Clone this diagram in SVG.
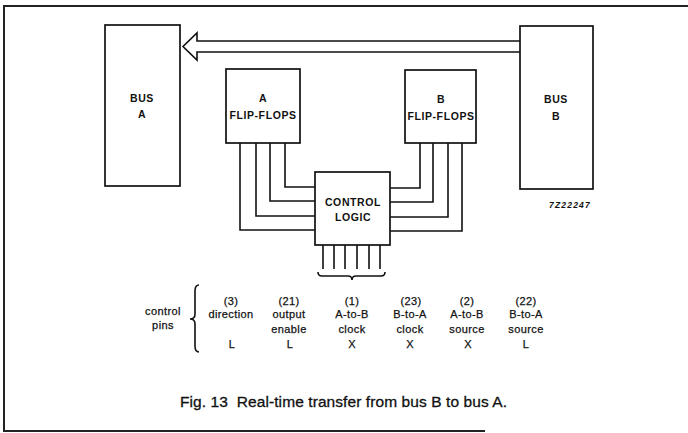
<svg xmlns="http://www.w3.org/2000/svg" width="688" height="433" viewBox="0 0 688 433">
<style>
.box{fill:#fff;stroke:#111;stroke-width:1.7}
.w{fill:none;stroke:#111;stroke-width:1.6}
.frame{fill:none;stroke:#222;stroke-width:2}
.lbl{font-family:"Liberation Sans",Arial,sans-serif;font-weight:bold;font-size:10.5px;fill:#111;text-anchor:middle;letter-spacing:0.6px}
.pin{font-family:"Liberation Sans",Arial,sans-serif;font-size:11px;fill:#111;stroke:#111;stroke-width:0.25;text-anchor:middle;letter-spacing:0.4px}
.cap{font-family:"Liberation Sans",Arial,sans-serif;font-size:15.5px;fill:#111;stroke:#111;stroke-width:0.3}
.code{font-family:"Liberation Sans",Arial,sans-serif;font-weight:bold;font-style:italic;font-size:8.5px;fill:#111;text-anchor:middle;letter-spacing:1.2px}
</style>
<rect width="688" height="433" fill="#fff"/>
<g id="frame">
<path class="frame" d="M688,6 H4 V431 H485"/>
</g>
<g id="connectors">
<path class="w" d="M520,41 H197 V33 L183,46.5 L197,60 V52 H520"/>
<path class="w" d="M240,143 V230 H315"/>
<path class="w" d="M256,143 V216 H315"/>
<path class="w" d="M270,143 V201 H315"/>
<path class="w" d="M285,143 V187 H315"/>
<path class="w" d="M390,188 H420 V143"/>
<path class="w" d="M390,202 H433 V143"/>
<path class="w" d="M390,217 H448 V143"/>
<path class="w" d="M390,231 H462 V143"/>
<path class="w" d="M323,245 V269 M334,245 V269 M345,245 V269 M357,245 V269 M369,245 V269 M380,245 V269"/>
<path class="w" stroke-width="1.3" d="M318,272 Q318,276 322,276 H348 Q352,276 352,280 Q352,276 356,276 H381 Q385,276 385,272"/>
</g>
<g id="busA">
<rect class="box" x="105" y="25" width="75" height="161"/>
<text class="lbl" x="142" y="102">BUS</text>
<text class="lbl" x="142" y="118">A</text>
</g>
<g id="ffA">
<rect class="box" x="226" y="69" width="74" height="74"/>
<text class="lbl" x="263" y="102">A</text>
<text class="lbl" x="263" y="119">FLIP-FLOPS</text>
</g>
<g id="ffB">
<rect class="box" x="405" y="70" width="71" height="73"/>
<text class="lbl" x="441" y="103">B</text>
<text class="lbl" x="441" y="120">FLIP-FLOPS</text>
</g>
<g id="busB">
<rect class="box" x="520" y="26" width="73" height="163"/>
<text class="lbl" x="556" y="103">BUS</text>
<text class="lbl" x="556" y="120">B</text>
<text class="code" x="570" y="208">7Z22247</text>
</g>
<g id="control">
<rect class="box" x="315" y="172" width="75" height="73"/>
<text class="lbl" x="353" y="206">CONTROL</text>
<text class="lbl" x="353" y="221">LOGIC</text>
</g>
<g id="pins">
<text class="pin" x="163" y="315">control</text>
<text class="pin" x="163" y="329">pins</text>
<path class="w" stroke-width="1.3" d="M199,285 Q195,285 195,291 V314 Q195,319 190,319 Q195,319 195,324 V346 Q195,352 199,352"/>
<g id="col1"><text class="pin" x="231" y="305">(3)</text><text class="pin" x="231" y="318">direction</text><text class="pin" x="232" y="348">L</text></g>
<g id="col2"><text class="pin" x="289" y="305">(21)</text><text class="pin" x="289" y="318">output</text><text class="pin" x="289" y="333">enable</text><text class="pin" x="290" y="348">L</text></g>
<g id="col3"><text class="pin" x="352" y="305">(1)</text><text class="pin" x="352" y="318">A-to-B</text><text class="pin" x="352" y="333">clock</text><text class="pin" x="352" y="348">X</text></g>
<g id="col4"><text class="pin" x="411" y="305">(23)</text><text class="pin" x="410" y="318">B-to-A</text><text class="pin" x="410" y="333">clock</text><text class="pin" x="410" y="348">X</text></g>
<g id="col5"><text class="pin" x="467" y="305">(2)</text><text class="pin" x="467" y="318">A-to-B</text><text class="pin" x="467" y="333">source</text><text class="pin" x="468" y="348">X</text></g>
<g id="col6"><text class="pin" x="526" y="305">(22)</text><text class="pin" x="526" y="318">B-to-A</text><text class="pin" x="526" y="333">source</text><text class="pin" x="526" y="348">L</text></g>
</g>
<g id="caption">
<text class="cap" x="180" y="407" xml:space="preserve" textLength="327" lengthAdjust="spacing">Fig. 13  Real-time transfer from bus B to bus A.</text>
</g>
</svg>
